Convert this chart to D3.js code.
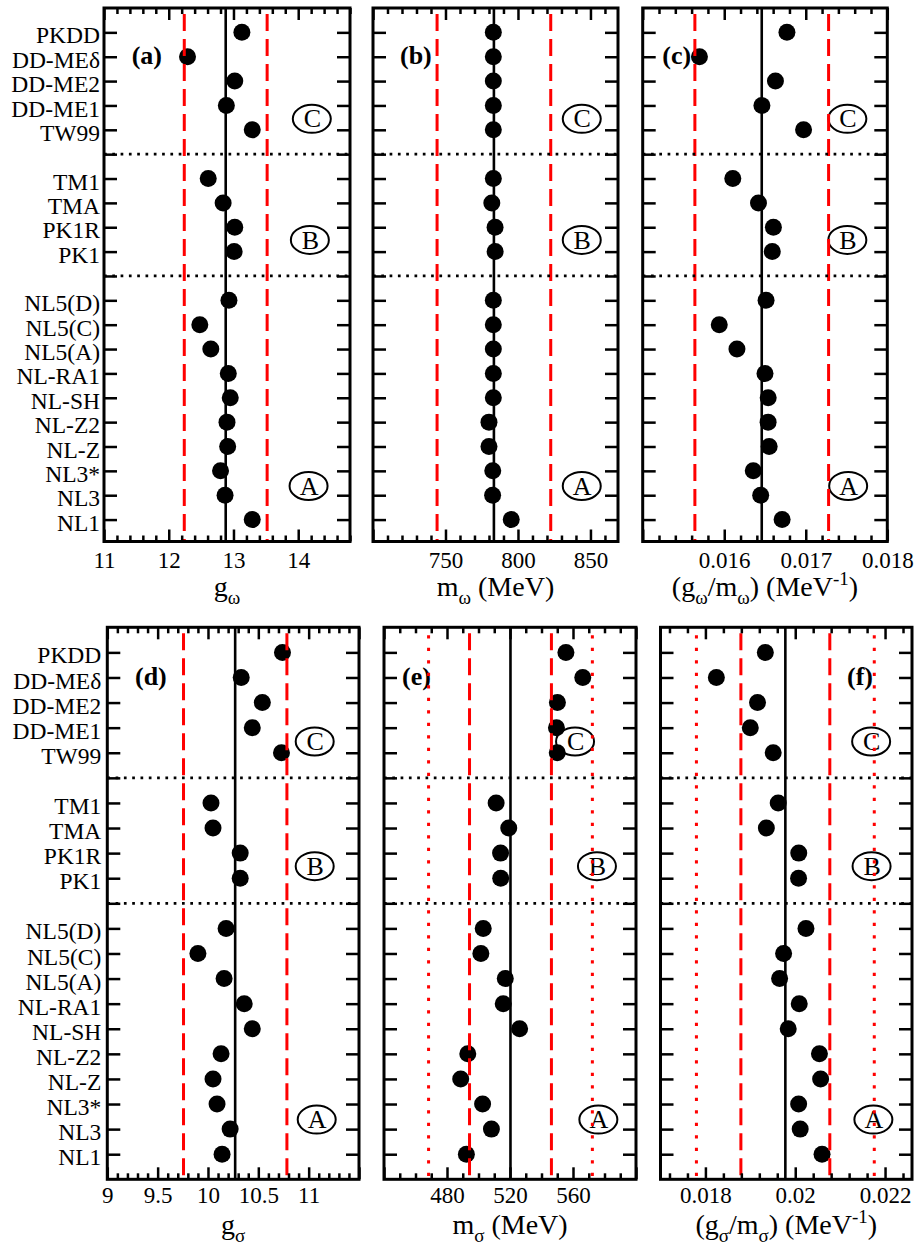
<!DOCTYPE html>
<html>
<head>
<meta charset="utf-8">
<script src="https://cdn.jsdelivr.net/npm/d3@7"></script>
<style>
  body { margin: 0; background: #fff; }
  svg { display: block; }
  text { font-family: "Liberation Serif", "Times New Roman", serif; fill: #000; }
</style>
</head>
<body>
<svg id="chart" width="919" height="1255"></svg>
<script>
// Parameter sets, grouped as drawn from top to bottom
const groupC = ["PKDD", "DD-MEδ", "DD-ME2", "DD-ME1", "TW99"];
const groupB = ["TM1", "TMA", "PK1R", "PK1"];
const groupA = ["NL5(D)", "NL5(C)", "NL5(A)", "NL-RA1", "NL-SH", "NL-Z2", "NL-Z", "NL3*", "NL3", "NL1"];

// omega-meson coupling, mass and ratio
const gOmega = [13.13, 12.29, 13.02, 12.89, 13.29, 12.61, 12.84, 13.02, 13.01,
                12.93, 12.48, 12.65, 12.92, 12.95, 12.90, 12.91, 12.80, 12.87, 13.29];
const mOmega = [783, 783, 783, 783, 783, 783, 781.95, 784.2, 784.25,
                783, 783, 783, 783, 783, 780, 780, 782.6, 782.5, 795.36];
const gmOmega = [0.016769, 0.015696, 0.016628, 0.016462, 0.016973, 0.016105, 0.016420, 0.016603, 0.016589,
                 0.016513, 0.015939, 0.016156, 0.016500, 0.016539, 0.016538, 0.016551, 0.016356, 0.016447, 0.016710];

// sigma-meson coupling, mass and ratio
const gSigma = [10.74, 10.33, 10.54, 10.44, 10.73, 10.03, 10.05, 10.32, 10.32,
                10.18, 9.90, 10.16, 10.36, 10.44, 10.13, 10.05, 10.09, 10.22, 10.14];
const mSigma = [555.5, 566.2, 550.1, 549.5, 550.0, 511.2, 519.2, 514.0, 514.1,
                 503.0, 501.5, 517.0, 515.7, 526.1, 493.2, 488.7, 502.6, 508.2, 492.3];
const gmSigma = [0.019334, 0.018244, 0.019160, 0.018999, 0.019509, 0.019621, 0.019357, 0.020078, 0.020074,
                 0.020239, 0.019741, 0.019652, 0.020089, 0.019844, 0.020539, 0.020565, 0.020076, 0.020110, 0.020597];

// mean of each quantity, with the ±5% (dashed) and ±10% (dotted) bands
const meanValues = [12.88, 783.4, 0.01646, 10.27, 520.3, 0.01978];
const band5 = [[12.24, 13.52], [744.2, 822.6], [0.01564, 0.01728], [9.757, 10.784], [494.3, 546.3], [0.01879, 0.02077]];
const band10 = [null, null, null, null, [468.3, 572.3], [0.0178, 0.02176]];

// axis tick labels
const ticksA = ["11", "12", "13", "14"];
const ticksB = ["750", "800", "850"];
const ticksC = ["0.016", "0.017", "0.018"];
const ticksD = ["9", "9.5", "10", "10.5", "11"];
const ticksE = ["480", "520", "560"];
const ticksF = ["0.018", "0.02", "0.022"];

// category slots: a blank slot separates the groups
const slots = [...groupC, null, ...groupB, null, ...groupA];
const models = [...groupC, ...groupB, ...groupA];
const separatorSlots = slots.map((s, i) => s === null ? i + 1 : null).filter(v => v !== null);
const groupLetters = ["C", "B", "A"];

const RED = "#ff0000";
const svg = d3.select("#chart");
svg.append("rect").attr("width", 919).attr("height", 1255).attr("fill", "#fff");

const rowsLayout = [
  { y0: 8, y1: 541.5, yMax: 21.9, tickBase: 568, titleBase: 596, labelPad: 4 },
  { y0: 627.3, y1: 1179.3, yMax: 22, tickBase: 1203, titleBase: 1234, labelPad: 6 }
];

const panels = [
  { tag: "(a)", values: gOmega, domain: [11, 14.8], x0: 104, x1: 350, row: 0, major: 1, minor: 0.2,
    ticks: ticksA, title: [["g"], ["ω", "sub"]], tagDx: 27.7, letterX: [14.21, 14.18, 14.16], yLabels: true },
  { tag: "(b)", values: mOmega, domain: [700, 869], x0: 373, x1: 618, row: 0, major: 50, minor: 10,
    ticks: ticksB, title: [["m"], ["ω", "sub"], [" (MeV)"]], tagDx: 27, letterX: [844, 844, 844] },
  { tag: "(c)", values: gmOmega, domain: [0.015, 0.018], x0: 642.7, x1: 887.3, row: 0, major: 0.001, minor: 0.0002,
    ticks: ticksC, title: [["(g"], ["ω", "sub"], ["/m"], ["ω", "sub"], [") (MeV"], ["-1", "sup"], [")"]], tagDx: 19.6,
    letterX: [0.01751, 0.01751, 0.01752] },
  { tag: "(d)", values: gSigma, domain: [9, 11.5], x0: 107.3, x1: 359, row: 1, major: 0.5, minor: 0.1,
    ticks: ticksD, title: [["g"], ["σ", "sub"]], tagDx: 27.7, letterX: [11.06, 11.06, 11.08], yLabels: true },
  { tag: "(e)", values: mSigma, domain: [440, 600], x0: 384, x1: 636, row: 1, major: 40, minor: 10,
    ticks: ticksE, title: [["m"], ["σ", "sub"], [" (MeV)"]], tagDx: 18, letterX: [561.3, 575.2, 576.1] },
  { tag: "(f)", values: gmSigma, domain: [0.017, 0.0226], x0: 660.5, x1: 912, row: 1, major: 0.002, minor: 0.0004,
    ticks: ticksF, title: [["(g"], ["σ", "sub"], ["/m"], ["σ", "sub"], [") (MeV"], ["-1", "sup"], [")"]], tagDx: 186.5,
    letterX: [0.02169, 0.0217, 0.02174] }
];
const letterRows = [4.55, 9.52, 19.62];

function stepValues(domain, step) {
  const i0 = Math.ceil(domain[0] / step - 1e-6), i1 = Math.floor(domain[1] / step + 1e-6);
  return d3.range(i0, i1 + 1).map(i => +(i * step).toFixed(8));
}

function styleAxis(g) {
  g.select(".domain").remove();
  g.selectAll(".tick line").attr("stroke", "#000").attr("stroke-width", 2.5);
}

panels.forEach((p, pi) => {
  const L = rowsLayout[p.row];
  const x = d3.scaleLinear().domain(p.domain).range([p.x0, p.x1]);
  const y = d3.scaleLinear().domain([0, L.yMax]).range([L.y0, L.y1]);
  const g = svg.append("g");
  const slotOf = name => slots.indexOf(name) + 1;

  // circled group letters
  groupLetters.forEach((t, k) => {
    const cx = x(p.letterX[k]), cy = y(letterRows[k]);
    g.append("ellipse").attr("cx", cx).attr("cy", cy).attr("rx", 19).attr("ry", 14)
      .attr("fill", "none").attr("stroke", "#000").attr("stroke-width", 2);
    g.append("text").attr("x", cx + 0.5).attr("y", cy + 8.6).attr("text-anchor", "middle")
      .attr("font-size", 26).text(t);
  });

  // panel tag
  g.append("text").attr("x", p.x0 + p.tagDx).attr("y", y(2) + 7.5)
    .attr("font-size", 26).attr("font-weight", "bold").text(p.tag);

  // points
  g.selectAll("circle.pt").data(models).join("circle").attr("class", "pt")
    .attr("cx", (d, i) => x(p.values[i])).attr("cy", d => y(slotOf(d)))
    .attr("r", 8.5).attr("fill", "#000");

  // mean line
  g.append("line").attr("x1", x(meanValues[pi])).attr("x2", x(meanValues[pi]))
    .attr("y1", L.y0).attr("y2", L.y1).attr("stroke", "#000").attr("stroke-width", 2.6);

  // ±5% dashed and ±10% dotted bands
  band5[pi].forEach(v => {
    g.append("line").attr("x1", x(v)).attr("x2", x(v)).attr("y1", L.y0).attr("y2", L.y1)
      .attr("stroke", RED).attr("stroke-width", 3).attr("stroke-dasharray", "17,8")
      .attr("stroke-dashoffset", -6);
  });
  if (band10[pi]) band10[pi].forEach(v => {
    g.append("line").attr("x1", x(v)).attr("x2", x(v)).attr("y1", L.y0).attr("y2", L.y1)
      .attr("stroke", RED).attr("stroke-width", 3).attr("stroke-dasharray", "3.3,9.2")
      .attr("stroke-dashoffset", -8);
  });

  // group separators
  separatorSlots.forEach(s => {
    g.append("line").attr("x1", p.x0).attr("x2", p.x1).attr("y1", y(s)).attr("y2", y(s))
      .attr("stroke", "#000").attr("stroke-width", 2.7).attr("stroke-dasharray", "2.7,5.6");
  });

  // axes: minor and major ticks on all four sides, pointing inward
  const majors = stepValues(p.domain, p.major);
  const minors = stepValues(p.domain, p.minor).filter(v => !majors.some(m => Math.abs(m - v) < p.minor * 1e-3));
  const labelVals = p.ticks.map(s => +s);
  const labelFor = v => { const k = labelVals.findIndex(l => Math.abs(l - v) < p.major * 1e-3); return k >= 0 ? p.ticks[k] : ""; };

  g.append("g").attr("transform", `translate(0,${L.y1})`)
    .call(d3.axisBottom(x).tickValues(minors).tickSize(-6).tickFormat(() => "")).call(styleAxis);
  const bottom = g.append("g").attr("transform", `translate(0,${L.y1})`)
    .call(d3.axisBottom(x).tickValues(majors).tickSize(-12).tickFormat(labelFor)).call(styleAxis);
  bottom.selectAll("text").attr("y", L.tickBase - L.y1).attr("dy", 0)
    .attr("font-size", 23).attr("font-family", "Liberation Serif").attr("fill", "#000");

  g.append("g").attr("transform", `translate(0,${L.y0})`)
    .call(d3.axisTop(x).tickValues(minors).tickSize(-6).tickFormat(() => "")).call(styleAxis);
  g.append("g").attr("transform", `translate(0,${L.y0})`)
    .call(d3.axisTop(x).tickValues(majors).tickSize(-12).tickFormat(() => "")).call(styleAxis);

  const slotTicks = d3.range(1, slots.length + 1);
  const left = g.append("g").attr("transform", `translate(${p.x0},0)`)
    .call(d3.axisLeft(y).tickValues(slotTicks).tickSize(-13).tickPadding(L.labelPad)
      .tickFormat(i => p.yLabels ? (slots[i - 1] || "") : "")).call(styleAxis);
  left.selectAll("text").attr("dy", "0.45em").attr("font-size", 23.5)
    .attr("font-family", "Liberation Serif").attr("fill", "#000");
  g.append("g").attr("transform", `translate(${p.x1},0)`)
    .call(d3.axisRight(y).tickValues(slotTicks).tickSize(-13).tickFormat(() => "")).call(styleAxis);

  // frame
  g.append("rect").attr("x", p.x0).attr("y", L.y0).attr("width", p.x1 - p.x0).attr("height", L.y1 - L.y0)
    .attr("fill", "none").attr("stroke", "#000").attr("stroke-width", 3);

  // axis title with sub/superscripts
  const title = g.append("text").attr("x", (p.x0 + p.x1) / 2).attr("y", L.titleBase)
    .attr("text-anchor", "middle").attr("font-size", 28);
  let shift = 0;
  p.title.forEach(([s, kind]) => {
    const target = kind === "sub" ? 8 : kind === "sup" ? -11 : 0;
    title.append("tspan").attr("dy", target - shift)
      .attr("font-size", kind ? 19 : 28).text(s);
    shift = target;
  });
});
</script>
</body>
</html>
